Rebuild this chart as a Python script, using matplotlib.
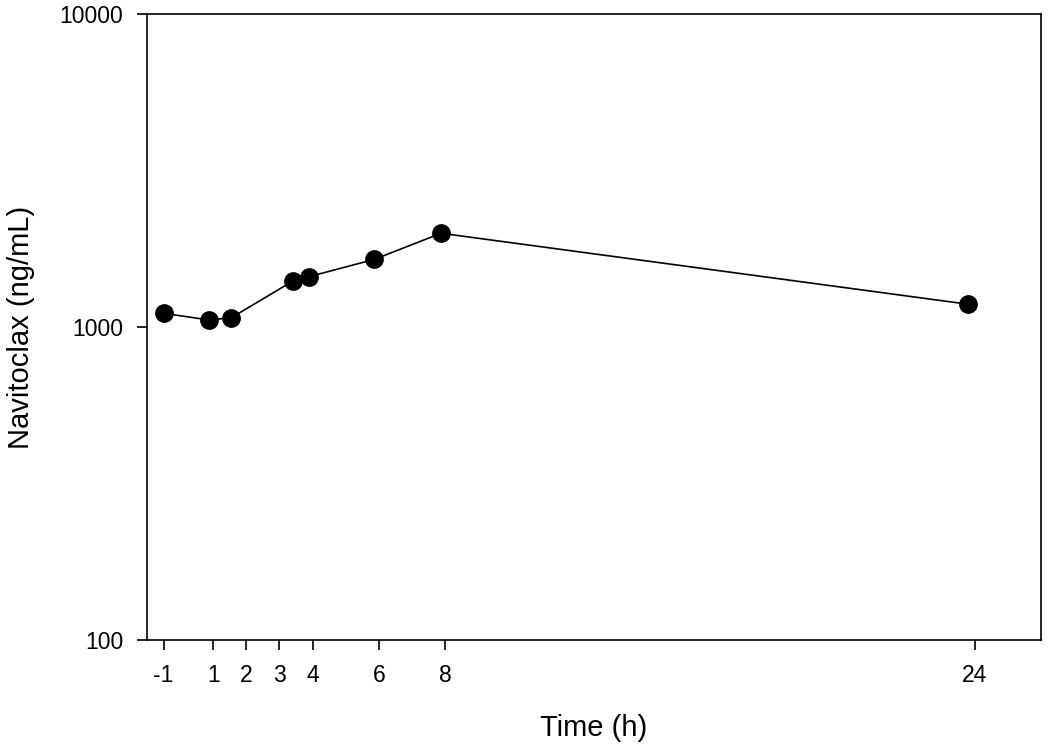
import matplotlib
matplotlib.use("Agg")
import matplotlib.pyplot as plt
from matplotlib.ticker import FixedLocator, NullLocator

plt.rcParams['font.family'] = ['Liberation Sans', 'DejaVu Sans']

time_h = [-0.5, 0.88, 1.55, 3.41, 3.88, 5.87, 7.88, 23.81]
conc = [1106, 1053, 1071, 1403, 1447, 1645, 1993, 1182]
xtick_pos = [-0.5, 1, 2, 3, 4, 6, 8, 24]
xtick_labels = ['-1', '1', '2', '3', '4', '6', '8', '24']
ytick_pos = [100, 1000, 10000]
ytick_labels = ['100', '1000', '10000']

fig = plt.figure(figsize=(10.5, 7.48), dpi=100)
ax = fig.add_axes([147/1050, 1-640/748, (1041-147)/1050, (640-14)/748])
ax.plot(time_h, conc, color='black', lw=1.2, marker='o', ms=12.5,
        markerfacecolor='black', markeredgecolor='black')
ax.set_yscale('log')
ax.set_ylim(100, 10000)
ax.set_xlim(-1, 26)
ax.xaxis.set_major_locator(FixedLocator(xtick_pos))
ax.set_xticklabels(xtick_labels)
ax.yaxis.set_major_locator(FixedLocator(ytick_pos))
ax.set_yticklabels(ytick_labels)
ax.yaxis.set_minor_locator(NullLocator())
ax.tick_params(axis='both', which='major', direction='out', length=7.5, width=1.2,
               labelsize=16.5)
ax.tick_params(axis='x', pad=10)
ax.tick_params(axis='y', pad=9.5)
for s in ax.spines.values():
    s.set_linewidth(1.2)
ax.set_xlabel('Time (h)', fontsize=21, labelpad=19)
ax.set_ylabel('Navitoclax (ng/mL)', fontsize=21, labelpad=17.5)
fig.savefig('out.png', dpi=100)
